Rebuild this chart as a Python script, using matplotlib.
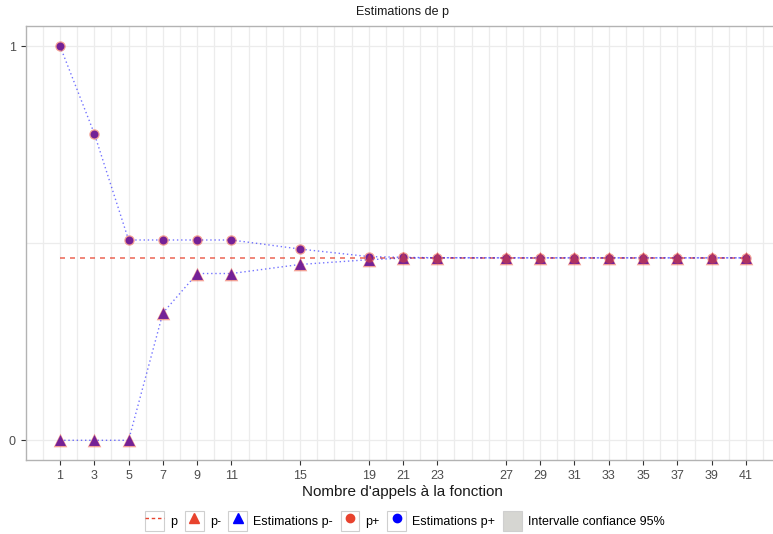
import matplotlib.pyplot as plt
from matplotlib.lines import Line2D
from matplotlib.patches import Patch
from matplotlib.legend_handler import HandlerTuple

plt.rcParams['font.family'] = ['Liberation Sans', 'DejaVu Sans']

# donnees
appels = [1, 3, 5, 7, 9, 11, 15, 19, 21, 23, 27, 29, 31, 33, 35, 37, 39, 41]
p_moins = [0, 0, 0, 0.323, 0.423, 0.423, 0.446, 0.458, 0.462, 0.463,
           0.4627, 0.4627, 0.4627, 0.4627, 0.4627, 0.4627, 0.4627, 0.4627]
p_plus = [1, 0.778, 0.508, 0.508, 0.508, 0.508, 0.485, 0.466, 0.464, 0.463,
          0.4627, 0.4627, 0.4627, 0.4627, 0.4627, 0.4627, 0.4627, 0.4627]
p_vrai = 0.4627

ROUGE = '#e8432e'
BLEU = '#0000ff'
GRILLE = '#ececec'

fig = plt.figure(figsize=(7.73, 5.34), dpi=100)
# panel from x=25.7px to beyond right edge (xlim -1..43)
ax = fig.add_axes([25.7 / 773, 1 - 460 / 534, (780.3 - 25.7) / 773, (460 - 26.3) / 534])
ax.set_xlim(-1, 43)
ax.set_ylim(-0.05, 1.05)

for xg in range(0, 43):
    ax.axvline(xg, color=GRILLE, lw=0.9, zorder=0)
for yg in [0, 0.5, 1]:
    ax.axhline(yg, color=GRILLE, lw=0.9, zorder=0)

ax.plot([appels[0], appels[-1]], [p_vrai, p_vrai], ls=(0, (3, 3)), color=ROUGE, alpha=0.75, lw=1.2, zorder=2)
ax.plot(appels, p_plus, ls=(0, (1, 2)), color=BLEU, alpha=0.55, lw=1.0, zorder=2)
ax.plot(appels, p_moins, ls=(0, (1, 2)), color=BLEU, alpha=0.55, lw=1.0, zorder=2)

# estimations (bleu) puis valeurs (rouge, transparent) par dessus
ax.scatter(appels, p_plus, marker='o', s=32, color=BLEU, lw=0, zorder=3)
ax.scatter(appels, p_moins, marker='^', s=62, color=BLEU, lw=0, zorder=3)
ax.scatter(appels, p_plus, marker='o', s=56, color=ROUGE, alpha=0.5, lw=0, zorder=4)
ax.scatter(appels, p_moins, marker='^', s=96, color=ROUGE, alpha=0.5, lw=0, zorder=4)

ax.set_xticks(appels)
ax.set_xticklabels([str(a) for a in appels])
ax.set_yticks([0, 1])
ax.set_yticklabels(['0', '1'])
ax.tick_params(colors='#333333', labelcolor='#4d4d4d', labelsize=9, length=3.5, width=0.8)

for side in ['left', 'bottom', 'top']:
    ax.spines[side].set_color('#b3b3b3')
    ax.spines[side].set_linewidth(1)
ax.spines['right'].set_visible(False)

fig.text(402 / 773, 1 - 12 / 534, 'Estimations de p', ha='center', va='center', fontsize=9, color='#1a1a1a')
fig.text(402 / 773, 1 - 492 / 534, "Nombre d'appels à la fonction", ha='center', va='center', fontsize=11, color='#1a1a1a')

boite = dict(facecolor='white', edgecolor='#cfcfcf', lw=0.8)
handles = [
    (Patch(**boite), Line2D([], [], ls=(0, (2.5, 2)), color=ROUGE, lw=1)),
    (Patch(**boite), Line2D([], [], ls='', marker='^', ms=7, color=ROUGE)),
    (Patch(**boite), Line2D([], [], ls='', marker='^', ms=7, color=BLEU)),
    (Patch(**boite), Line2D([], [], ls='', marker='o', ms=6, color=ROUGE)),
    (Patch(**boite), Line2D([], [], ls='', marker='o', ms=6, color=BLEU)),
    Patch(facecolor='#d6d6d2', edgecolor='#cfcfcf', lw=0.8),
]
labels = ['p', 'p-', 'Estimations p-', 'p+', 'Estimations p+', 'Intervalle confiance 95%']
fig.legend(handles, labels, loc='center', bbox_to_anchor=(405 / 773, 1 - 521 / 534), ncol=6,
           frameon=False, fontsize=9, handlelength=1.5, handleheight=2.0, handletextpad=0.5,
           columnspacing=0.6, handler_map={tuple: HandlerTuple(ndivide=1, pad=0)})

fig.savefig('out.png', dpi=100)
